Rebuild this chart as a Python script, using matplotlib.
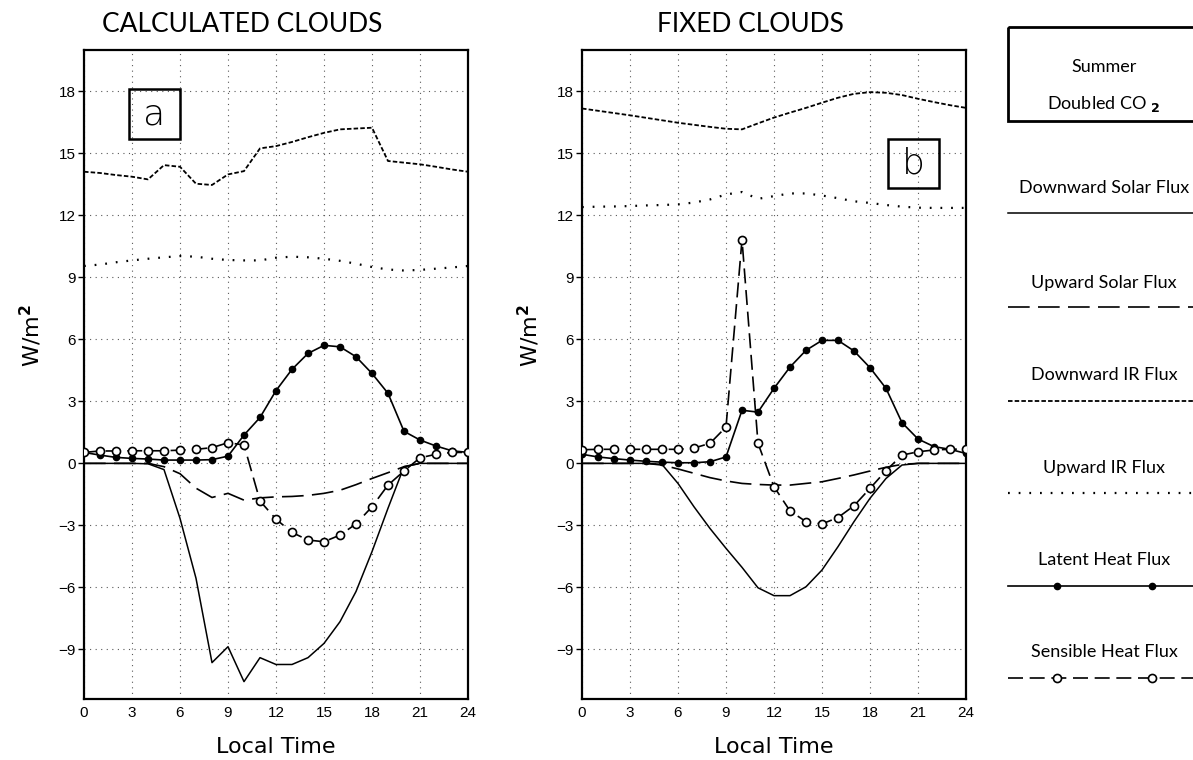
import numpy as np
import matplotlib
matplotlib.use("Agg")
import matplotlib.pyplot as plt
from matplotlib.patches import Rectangle

plt.rcParams['font.family'] = ['Liberation Sans', 'DejaVu Sans']
NARROW = ['Lato', 'Liberation Sans', 'DejaVu Sans']

hours = np.arange(25)
xticks = [0, 3, 6, 9, 12, 15, 18, 21, 24]
yticks = [-9, -6, -3, 0, 3, 6, 9, 12, 15, 18]

panel_titles = ['CALCULATED CLOUDS', 'FIXED CLOUDS']
panel_tags = ['a', 'b']

# panel a: calculated clouds
calc_dn_solar = [0, 0, 0, 0, -0.02, -0.3, -2.66, -5.56, -9.64, -8.87, -10.56, -9.4, -9.73,
                 -9.73, -9.4, -8.71, -7.66, -6.2, -4.27, -2.17, -0.16, 0, 0, 0, 0]
calc_up_solar = [0, 0, 0, 0, 0, -0.16, -0.5, -1.2, -1.65, -1.45, -1.78, -1.67, -1.62,
                 -1.6, -1.55, -1.45, -1.3, -1.03, -0.73, -0.45, -0.16, 0, 0, 0, 0]
calc_dn_ir = [14.11, 14.05, 13.95, 13.87, 13.74, 14.43, 14.35, 13.53, 13.47, 13.98, 14.14, 15.24,
              15.35, 15.55, 15.78, 15.99, 16.16, 16.2, 16.24, 14.63, 14.55, 14.47, 14.35, 14.22, 14.11]
calc_up_ir = [9.55, 9.62, 9.73, 9.82, 9.9, 9.97, 10.03, 10.0, 9.9, 9.84, 9.82, 9.82, 9.95,
              10.0, 9.97, 9.9, 9.8, 9.66, 9.5, 9.38, 9.33, 9.36, 9.42, 9.48, 9.55]
calc_latent = [0.53, 0.4, 0.29, 0.24, 0.21, 0.16, 0.16, 0.16, 0.18, 0.35, 1.37, 2.22, 3.52,
               4.55, 5.32, 5.71, 5.64, 5.16, 4.35, 3.39, 1.55, 1.13, 0.84, 0.61, 0.53]
calc_sensible = [0.53, 0.6, 0.6, 0.61, 0.61, 0.61, 0.64, 0.68, 0.76, 1.0, 0.89, -1.82, -2.7,
                 -3.34, -3.71, -3.79, -3.47, -2.93, -2.1, -1.05, -0.37, 0.27, 0.44, 0.53, 0.53]

# panel b: fixed clouds
fixed_dn_solar = [0, 0, 0, 0, 0, -0.05, -0.97, -2.1, -3.15, -4.11, -5.03, -6.02, -6.4,
                  -6.4, -5.97, -5.16, -4.03, -2.82, -1.69, -0.73, -0.08, 0, 0, 0, 0]
fixed_up_solar = [0, 0, 0, 0, 0, -0.08, -0.27, -0.48, -0.69, -0.85, -0.97, -1.02, -1.05,
                  -1.05, -0.97, -0.89, -0.73, -0.56, -0.37, -0.19, -0.05, 0, 0, 0, 0]
fixed_dn_ir = [17.17, 17.06, 16.95, 16.84, 16.72, 16.6, 16.48, 16.38, 16.28, 16.19, 16.16, 16.45,
               16.73, 16.97, 17.2, 17.45, 17.69, 17.88, 17.96, 17.93, 17.82, 17.64, 17.48, 17.33, 17.2]
fixed_up_ir = [12.4, 12.42, 12.43, 12.45, 12.48, 12.5, 12.53, 12.62, 12.77, 13.01, 13.13, 12.8, 12.93,
               13.06, 13.06, 12.96, 12.83, 12.68, 12.6, 12.5, 12.42, 12.37, 12.36, 12.36, 12.36]
fixed_latent = [0.44, 0.31, 0.23, 0.16, 0.1, 0.06, 0.03, 0.03, 0.08, 0.31, 2.57, 2.48, 3.63,
                4.66, 5.47, 5.95, 5.95, 5.44, 4.63, 3.63, 1.97, 1.18, 0.81, 0.68, 0.48]
fixed_sensible = [0.66, 0.68, 0.68, 0.68, 0.68, 0.68, 0.68, 0.74, 0.97, 1.76, 10.82, 0.97, -1.13,
                  -2.3, -2.82, -2.93, -2.62, -2.05, -1.21, -0.35, 0.4, 0.56, 0.65, 0.68, 0.7]

legend_labels = ['Downward Solar Flux', 'Upward Solar Flux', 'Downward IR Flux',
                 'Upward IR Flux', 'Latent Heat Flux', 'Sensible Heat Flux']

# line styles shared by plot and legend
STYLES = [
    dict(color='k', lw=1.1, ls='-'),
    dict(color='k', lw=1.2, ls=(0, (13, 5))),
    dict(color='k', lw=1.3, ls=(0, (2.5, 1.2))),
    dict(color='k', lw=1.6, ls=(0, (0.8, 4))),
    dict(color='k', lw=1.2, ls='-', marker='o', ms=4.5, mfc='k', mec='k'),
    dict(color='k', lw=1.2, ls=(0, (9, 4)), marker='o', ms=5.8, mfc='white', mec='k', mew=1.2),
]

W, H = 1193, 760
fig = plt.figure(figsize=(W / 100, H / 100), dpi=100)

panels = [
    (calc_dn_solar, calc_up_solar, calc_dn_ir, calc_up_ir, calc_latent, calc_sensible),
    (fixed_dn_solar, fixed_up_solar, fixed_dn_ir, fixed_up_ir, fixed_latent, fixed_sensible),
]
ax_left = [84, 582]
title_x = [242, 750]
tag_box = [(2.8, 15.7), (19.1, 13.3)]

for i, series in enumerate(panels):
    ax = fig.add_axes([ax_left[i] / W, 1 - 699 / H, 384 / W, 649 / H])
    for j, vals in enumerate(series):
        ax.plot(hours, vals, zorder=3 + j, **STYLES[j])
    ax.set_xlim(0, 24)
    ax.set_ylim(-11.4, 20)
    ax.set_xticks(xticks)
    ax.set_yticks(yticks)
    ax.grid(True, color='0.35', ls=(0, (1, 4)), lw=0.8)
    ax.tick_params(axis='y', direction='out', length=4, width=1, labelsize=11, pad=2)
    ax.tick_params(axis='x', length=0, labelsize=11, pad=5)
    for sp in ax.spines.values():
        sp.set_linewidth(1.6)
    ax.set_xlabel('Local Time', fontsize=16, family='DejaVu Sans', labelpad=12)
    ax.set_ylabel('W/m$^{\\mathbf{2}}$', fontsize=16, family='DejaVu Sans')
    ax.yaxis.set_label_coords(-0.105, 0.56)
    bx, by = tag_box[i]
    ax.add_patch(Rectangle((bx, by), 3.2, 2.4, fill=False, lw=1.8, ec='k', zorder=10))
    ax.text(bx + 1.6, by + 1.2, panel_tags[i], fontsize=26, family='DejaVu Sans',
            fontweight='light', ha='center', va='center', zorder=11)
    fig.text(title_x[i] / W, 1 - 24 / H, panel_titles[i], fontsize=19, family=NARROW,
             ha='center', va='center')

# legend panel on the right
lax = fig.add_axes([1008 / W, 0, 1 - 1008 / W, 1])
lax.set_xlim(0, 1)
lax.set_ylim(H, 0)
lax.axis('off')
lax.add_patch(Rectangle((0, 27), 1.2, 94, fill=False, lw=2, ec='k', clip_on=False))
lax.text(0.52, 67, 'Summer', fontsize=13, family=NARROW, ha='center', va='center')
lax.text(0.52, 104, 'Doubled CO $_{\\mathbf{2}}$', fontsize=13, family=NARROW, ha='center', va='center')

text_y = [188, 283, 375, 468, 560, 652]
line_y = [213, 307, 401, 493, 586, 678]
for j, lab in enumerate(legend_labels):
    lax.text(0.52, text_y[j], lab, fontsize=13, family=NARROW, ha='center', va='center')
    st = dict(STYLES[j])
    if 'marker' in st:
        st['markevery'] = [1, 2]
        lax.plot([0, 0.265, 0.78, 1.0], [line_y[j]] * 4, clip_on=False, **st)
    else:
        lax.plot([0, 1.0], [line_y[j]] * 2, clip_on=False, **st)

fig.savefig('out.png', dpi=100)
